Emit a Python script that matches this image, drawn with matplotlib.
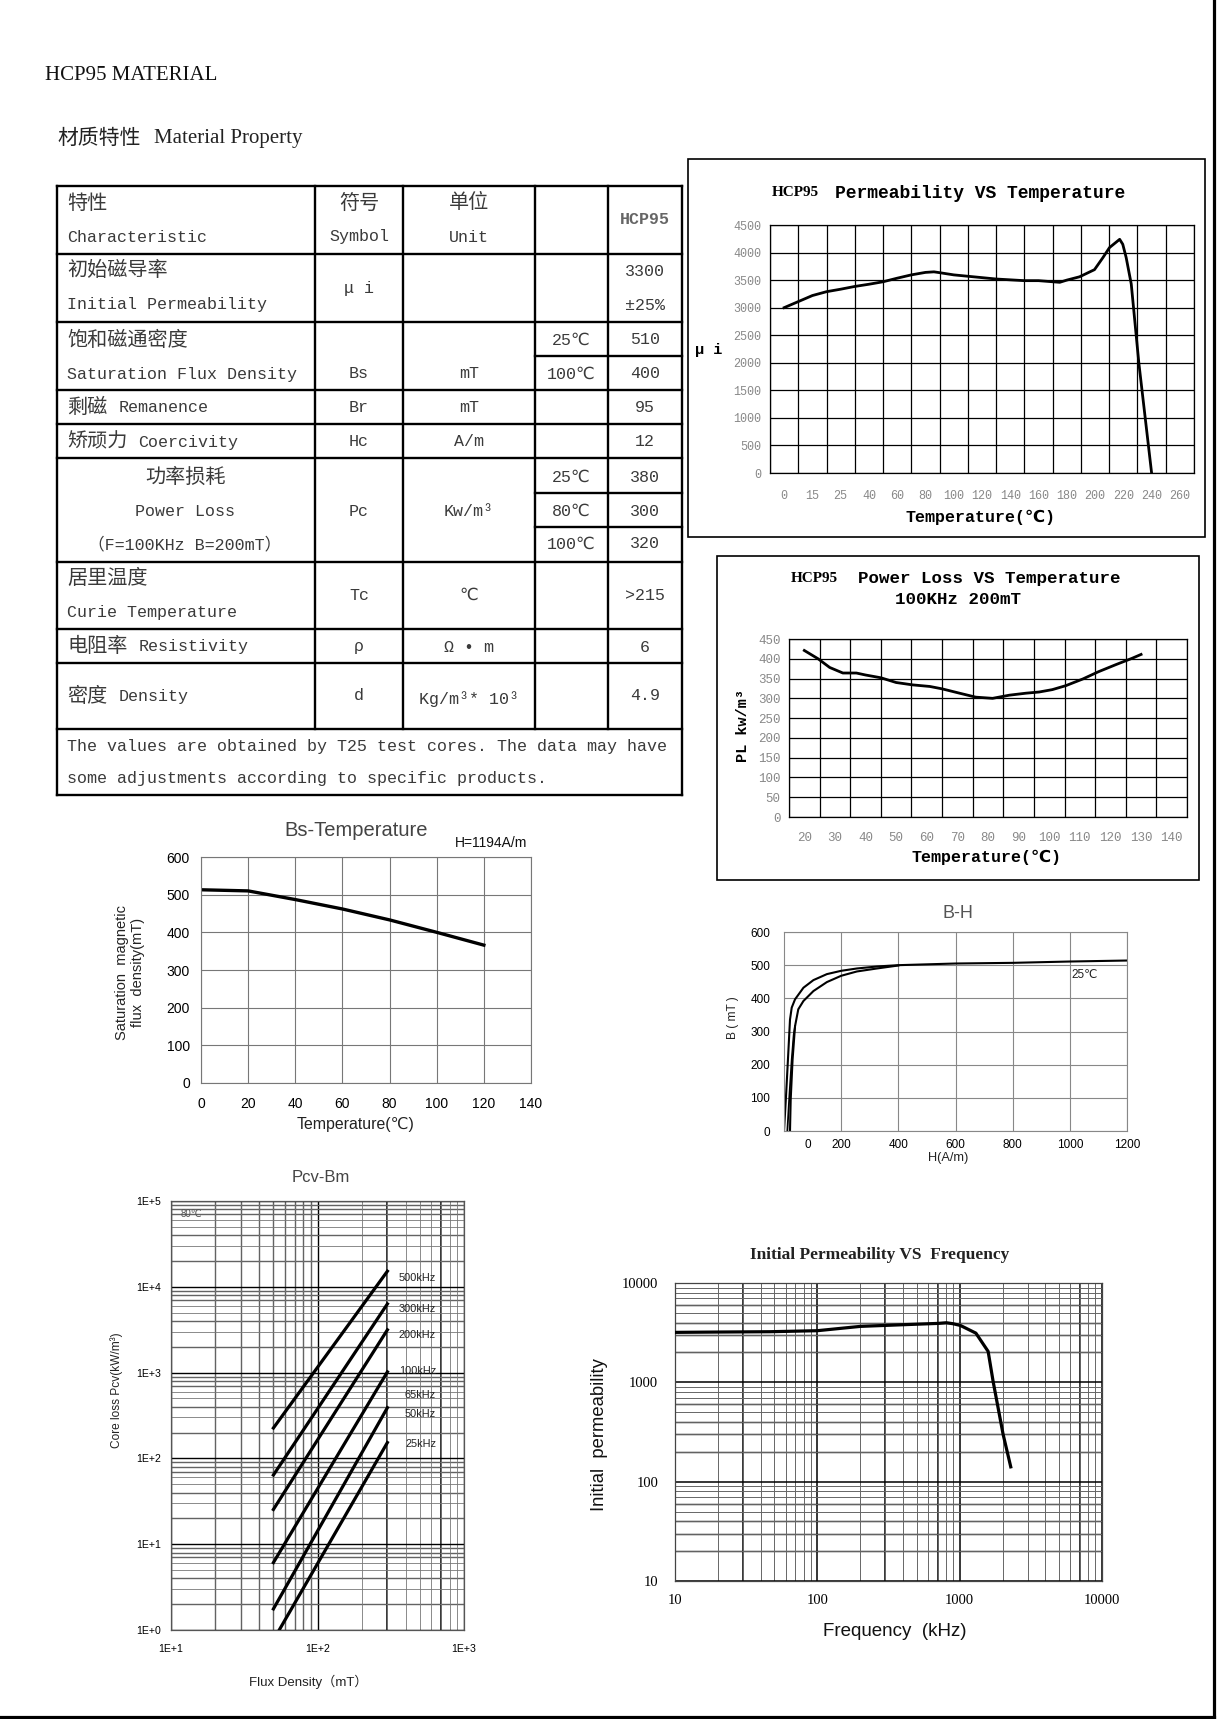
import matplotlib
matplotlib.use('Agg')
import matplotlib.pyplot as plt
import numpy as np
from matplotlib.ticker import NullFormatter, LogLocator
from matplotlib.patches import Rectangle

W, H = 1217, 1719
CJK = 'Noto Sans CJK SC'
MONO = ['Liberation Mono', 'DejaVu Sans Mono', 'DejaVu Sans', CJK]
SANS = ['Liberation Sans', 'DejaVu Sans', CJK]
SERIF = ['Liberation Serif', 'DejaVu Serif', CJK]
TXT = '#3a3a3a'

# ---- data ----
# permeability vs temperature (x = category position, categories below)
perm_temp_labels = ['0', '15', '25', '40', '60', '80', '100', '120', '140',
                    '160', '180', '200', '220', '240', '260']
perm_pos = [0, 0.5, 1.0, 1.5, 2.0, 2.5, 3.0, 3.5, 4.0, 4.5, 5.0, 5.3, 5.5, 6.0,
            6.5, 7.0, 7.5, 8.0, 8.5, 9.0, 9.5, 9.75, 10.0, 10.45, 10.98, 11.28,
            11.51, 11.87, 11.98, 12.1, 12.28, 12.55, 13.0]
perm_val = [3000, 3110, 3220, 3290, 3335, 3385, 3425, 3470, 3535, 3595, 3640,
            3650, 3635, 3595, 3570, 3545, 3520, 3505, 3490, 3490, 3470, 3460,
            3500, 3560, 3690, 3910, 4090, 4240, 4150, 3910, 3430, 1990, 0]

# power loss vs temperature, 100kHz 200mT
pl_temp = [20, 24.5, 28.3, 32.6, 37, 40, 45, 50, 55.4, 61, 65, 70.7, 76, 81.5,
           87, 92.4, 96.7, 101, 105.4, 111, 116, 121.7, 127, 130]
pl_val = [421, 400, 378, 364, 364, 359, 352, 340, 334, 330, 324, 313, 303, 300,
          308, 313, 316, 322, 332, 349, 367, 385, 401, 411]
pl_temp_labels = [20, 30, 40, 50, 60, 70, 80, 90, 100, 110, 120, 130, 140]

# Bs vs temperature
bs_temp = [0, 20, 40, 60, 80, 100, 120]
bs_val = [513, 510, 487, 462, 433, 400, 366]

# B-H curve (25C)
bh_h_up = [0, 7, 15, 21, 27, 38.6, 68, 103, 150, 200, 255, 325, 400, 600, 800, 1000, 1200]
bh_b_up = [0, 104, 235, 336, 372, 397, 432, 455, 473, 483, 490, 496, 500, 505, 507, 511, 514]
bh_h_low = [21, 23.4, 30, 38.6, 50, 68, 103, 150, 200, 255, 325, 400]
bh_b_low = [0, 94, 215, 316, 367, 392, 422, 449, 468, 481, 490, 499]
bh_h_ini = [11.7, 18.7, 27, 34, 38.6]
bh_b_ini = [0, 104, 215, 290, 316]

# Pcv - Bm at 80C: (B start, B end) and (Pcv start, Pcv end)
pcv_b = [[50, 300], [50, 300], [50, 300], [50, 300], [50, 300], [54.8, 300]]
pcv_p = [[226, 15200], [64, 6320], [25.4, 3150], [6.1, 1020], [1.76, 390], [1.0, 153]]
pcv_freq_labels = ['500kHz', '300kHz', '200kHz', '100kHz', '65kHz', '50kHz', '25kHz']
pcv_label_p = [12800, 5570, 2770, 1050, 555, 326, 147]

# initial permeability vs frequency
ip_freq = [10, 20, 46.5, 100, 201, 400, 708, 806, 898, 1010, 1300, 1585, 1718, 2018, 2285]
ip_val = [3184, 3208, 3233, 3310, 3659, 3802, 3921, 3980, 3890, 3742, 3128, 2047, 1021, 301, 141]

fig = plt.figure(figsize=(W / 100, H / 100), dpi=100)
fig.patch.set_facecolor('white')

pg = fig.add_axes([0, 0, 1, 1])
pg.set_xlim(0, W)
pg.set_ylim(H, 0)
pg.axis('off')


def ax_px(l, t, r, b):
    return fig.add_axes([l / W, 1 - b / H, (r - l) / W, (b - t) / H])


def tx(x, y, s, size=12, ha='left', family=MONO, color=TXT, **kw):
    pg.text(x, y, s, fontsize=size, ha=ha, va='center', family=family, color=color, **kw)


# ---- headings ----
tx(45, 75, 'HCP95 MATERIAL', size=15, family=SERIF, color='#111')
tx(57, 138, '材质特性', size=15, family=[CJK], color='#222')
tx(154, 138, 'Material Property', size=15, family=SERIF, color='#222')

# ---- table ----
col_x = [57, 315, 403, 535, 608, 682]
row_y = [186, 254, 322, 390, 424, 458, 562, 629, 663, 729, 795]
sub_y = [356, 493, 527]
tlw = 1.7
for y in row_y:
    pg.plot([col_x[0], col_x[-1]], [y, y], color='black', lw=tlw, solid_capstyle='projecting')
for y in sub_y:
    pg.plot([col_x[3], col_x[-1]], [y, y], color='black', lw=tlw)
for x in col_x[1:-1]:
    pg.plot([x, x], [row_y[0], row_y[-2]], color='black', lw=tlw)
for x in (col_x[0], col_x[-1]):
    pg.plot([x, x], [row_y[0], row_y[-1]], color='black', lw=tlw, solid_capstyle='projecting')

c1 = 67
c2 = (col_x[1] + col_x[2]) / 2
c3 = (col_x[2] + col_x[3]) / 2
c4 = (col_x[3] + col_x[4]) / 2
c5 = (col_x[4] + col_x[5]) / 2


def cjk_latin(y, cjk, latin):
    tx(c1, y, cjk, size=14.5, family=[CJK])
    tx(c1 + 20.2 * len(cjk) + 11, y, latin)


tx(c1, 203, '特性', size=14.5, family=[CJK])
tx(c1, 237, 'Characteristic')
tx(c2, 203, '符号', size=14.5, family=[CJK], ha='center')
tx(c2, 237, 'Symbol', ha='center')
tx(c3, 203, '单位', size=14.5, family=[CJK], ha='center')
tx(c3, 237, 'Unit', ha='center')
tx(c5, 220, 'HCP95', ha='center', color='#666', fontweight='bold')

tx(c1, 271, '初始磁导率', size=14.5, family=[CJK])
tx(c1, 305, 'Initial Permeability')
tx(c2, 288, 'μ i', ha='center')
tx(c5, 271, '3300', ha='center')
tx(c5, 305, '±25%', ha='center')

tx(c1, 340, '饱和磁通密度', size=14.5, family=[CJK])
tx(c1, 374, 'Saturation Flux Density')
tx(c2, 374, 'Bs', ha='center')
tx(c3, 374, 'mT', ha='center')
tx(c4, 340, '25℃', ha='center')
tx(c5, 340, '510', ha='center')
tx(c4, 374, '100℃', ha='center')
tx(c5, 374, '400', ha='center')

cjk_latin(407, '剩磁', 'Remanence')
tx(c2, 407, 'Br', ha='center')
tx(c3, 407, 'mT', ha='center')
tx(c5, 407, '95', ha='center')

cjk_latin(442, '矫顽力', 'Coercivity')
tx(c2, 442, 'Hc', ha='center')
tx(c3, 442, 'A/m', ha='center')
tx(c5, 442, '12', ha='center')

tx(186, 477, '功率损耗', size=14.5, family=[CJK], ha='center')
tx(185, 511, 'Power Loss', ha='center')
tx(185, 544, '（F=100KHz B=200mT）', ha='center')
tx(c2, 511, 'Pc', ha='center')
tx(c3, 511, 'Kw/m³', ha='center')
tx(c4, 477, '25℃', ha='center')
tx(c5, 477, '380', ha='center')
tx(c4, 511, '80℃', ha='center')
tx(c5, 511, '300', ha='center')
tx(c4, 544, '100℃', ha='center')
tx(c5, 544, '320', ha='center')

tx(c1, 578, '居里温度', size=14.5, family=[CJK])
tx(c1, 613, 'Curie Temperature')
tx(c2, 595, 'Tc', ha='center')
tx(c3, 595, '℃', ha='center')
tx(c5, 595, '>215', ha='center')

cjk_latin(647, '电阻率', 'Resistivity')
tx(c2, 647, 'ρ', ha='center')
tx(c3, 647, 'Ω • m', ha='center')
tx(c5, 647, '6', ha='center')

cjk_latin(696, '密度', 'Density')
tx(c2, 696, 'd', ha='center')
tx(c3, 699, 'Kg/m³* 10³', ha='center')
tx(c5, 696, '4.9', ha='center')

tx(c1, 747, 'The values are obtained by T25 test cores. The data may have')
tx(c1, 779, 'some adjustments according to specific products.')

# ---- chart 1: permeability vs temperature ----
pg.add_patch(Rectangle((687.5, 159), 517.5, 378, fill=False, lw=1.2, ec='black'))
ax1 = ax_px(770, 225, 1194, 473)
ax1.plot(perm_pos, perm_val, color='black', lw=2.0, solid_joinstyle='round')
n1 = len(perm_temp_labels)
ax1.set_xlim(-0.5, n1 - 0.5)
ax1.set_ylim(0, 4500)
ax1.set_xticks(range(n1))
ax1.set_xticklabels(perm_temp_labels, fontsize=8.5, family=MONO, color='#888')
ax1.set_xticks(np.arange(-0.5, n1, 1), minor=True)
ax1.set_yticks(range(0, 4501, 500))
ax1.set_yticklabels([str(v) for v in range(0, 4501, 500)], fontsize=8.5, family=MONO, color='#888')
ax1.grid(True, which='minor', axis='x', color='black', lw=0.9)
ax1.grid(True, which='major', axis='y', color='black', lw=0.9)
ax1.tick_params(which='both', length=0)
ax1.tick_params(axis='x', pad=12)
ax1.tick_params(axis='y', pad=6)
for s in ax1.spines.values():
    s.set_linewidth(0.9)
tx(772, 193, 'HCP95', size=11, family=SERIF, color='black', fontweight='bold')
tx(835, 193, 'Permeability VS Temperature', size=13, color='black', fontweight='bold')
tx(709, 350, 'μ i', size=11, ha='center', color='black', fontweight='bold')
tx(981, 517, 'Temperature(℃)', size=12, ha='center', color='black', fontweight='bold')

# ---- chart 2: power loss vs temperature ----
pg.add_patch(Rectangle((717, 556), 482, 324, fill=False, lw=1.2, ec='black'))
ax2 = ax_px(789, 639, 1187, 817)
ax2.plot(pl_temp, pl_val, color='black', lw=2.0, solid_joinstyle='round')
ax2.set_xlim(15, 145)
ax2.set_ylim(0, 450)
ax2.set_xticks(pl_temp_labels)
ax2.set_xticklabels([str(v) for v in pl_temp_labels], fontsize=9, family=MONO, color='#888')
ax2.set_xticks(np.arange(15, 146, 10), minor=True)
ax2.set_yticks(range(0, 451, 50))
ax2.set_yticklabels([str(v) for v in range(0, 451, 50)], fontsize=9, family=MONO, color='#888')
ax2.grid(True, which='minor', axis='x', color='black', lw=0.9)
ax2.grid(True, which='major', axis='y', color='black', lw=0.9)
ax2.tick_params(which='both', length=0)
ax2.tick_params(axis='x', pad=11)
ax2.tick_params(axis='y', pad=6)
for s in ax2.spines.values():
    s.set_linewidth(0.9)
tx(791, 579, 'HCP95', size=11, family=SERIF, color='black', fontweight='bold')
tx(858, 579, 'Power Loss VS Temperature', size=12.6, color='black', fontweight='bold')
tx(958, 600, '100KHz 200mT', size=12.6, ha='center', color='black', fontweight='bold')
tx(743, 725, 'PL kw/m³', size=11, ha='center', color='black', fontweight='bold', rotation=90)
tx(987, 857, 'Temperature(℃)', size=12, ha='center', color='black', fontweight='bold')

# ---- chart 3: Bs vs temperature ----
ax3 = ax_px(201, 857, 531, 1083)
ax3.plot(bs_temp, bs_val, color='black', lw=2.4)
ax3.set_xlim(0, 140)
ax3.set_ylim(0, 600)
ax3.set_xticks(range(0, 141, 20))
ax3.set_yticks(range(0, 601, 100))
for lab in ax3.get_xticklabels() + ax3.get_yticklabels():
    lab.set_family(SANS)
    lab.set_fontsize(10)
ax3.grid(True, color='#777', lw=0.8)
ax3.tick_params(length=0)
ax3.tick_params(axis='x', pad=10)
ax3.tick_params(axis='y', pad=8)
for s in ax3.spines.values():
    s.set_color('#777')
    s.set_linewidth(0.8)
tx(356, 831, 'Bs-Temperature', size=14.5, ha='center', family=SANS, color='#444')
tx(491, 843, 'H=1194A/m', size=10, ha='center', family=SANS, color='#111')
tx(356, 1125, 'Temperature(℃)', size=11.4, ha='center', family=SANS, color='#222')
tx(130, 972, 'Saturation  magnetic\nflux  density(mT)', size=10.5, ha='center', family=SANS,
   color='#222', rotation=90, multialignment='center')

# ---- chart 4: B-H ----
ax4 = ax_px(784, 932, 1127, 1131)
ax4.plot(bh_h_up, bh_b_up, color='black', lw=1.5)
ax4.plot(bh_h_low, bh_b_low, color='black', lw=1.5)
ax4.plot(bh_h_ini, bh_b_ini, color='black', lw=1.3)
ax4.set_xlim(0, 1200)
ax4.set_ylim(0, 600)
ax4.set_xticks(range(200, 1201, 200))
ax4.set_xticks([84], minor=True)
ax4.set_xticklabels(['0'], minor=True)
ax4.set_yticks(range(0, 601, 100))
for lab in ax4.get_xticklabels() + ax4.get_yticklabels() + ax4.get_xticklabels(minor=True):
    lab.set_family(SANS)
    lab.set_fontsize(8.5)
ax4.grid(True, which='major', color='#888', lw=0.8)
ax4.tick_params(which='both', length=0)
ax4.tick_params(axis='x', which='both', pad=6)
ax4.tick_params(axis='y', pad=10)
for s in ax4.spines.values():
    s.set_color('#888')
    s.set_linewidth(0.8)
ax4.text(1052, 471, '25℃', fontsize=8.5, family=SANS, ha='center', va='center', color='#222')
tx(958, 913, 'B-H', size=13, ha='center', family=SANS, color='#555')
tx(948, 1158, 'H(A/m)', size=9.2, ha='center', family=SANS, color='#222')
tx(733, 1018, 'B ( mT )', size=8.6, ha='center', family=SANS, color='#222', rotation=90)

# ---- chart 5: Pcv-Bm ----
ax5 = ax_px(171, 1201, 464, 1630)
ax5.set_xscale('log')
ax5.set_yscale('log')
ax5.set_xlim(10, 1000)
ax5.set_ylim(1, 1e5)
ax5.xaxis.set_minor_locator(LogLocator(base=10, subs=np.arange(2, 10)))
ax5.yaxis.set_minor_locator(LogLocator(base=10, subs=np.arange(2, 10), numticks=20))
ax5.xaxis.set_minor_formatter(NullFormatter())
ax5.yaxis.set_minor_formatter(NullFormatter())
ax5.set_xticks([10, 100, 1000])
ax5.set_xticklabels(['1E+1', '1E+2', '1E+3'])
ax5.set_yticks([1, 10, 100, 1e3, 1e4, 1e5])
ax5.set_yticklabels(['1E+0', '1E+1', '1E+2', '1E+3', '1E+4', '1E+5'])
for lab in ax5.get_xticklabels() + ax5.get_yticklabels():
    lab.set_family(SANS)
    lab.set_fontsize(7.6)
ax5.grid(True, which='major', color='black', lw=1.0)
ax5.grid(True, which='minor', color='#777', lw=0.6)
for d in range(0, 5):
    for m in (2, 4, 7, 8, 9):
        ax5.axhline(m * 10 ** d, color='black', lw=0.9, zorder=1.5)
for m in range(2, 10):
    ax5.axvline(m * 10, color='black', lw=0.9, zorder=1.5)
for m in (3, 7):
    ax5.axvline(m * 100, color='black', lw=1.1, zorder=1.5)
ax5.tick_params(which='both', length=0)
ax5.tick_params(axis='x', pad=10)
ax5.tick_params(axis='y', pad=7)
for s in ax5.spines.values():
    s.set_color('#555')
    s.set_linewidth(0.9)
for bb, pp in zip(pcv_b, pcv_p):
    ax5.plot(bb, pp, color='black', lw=2.3, zorder=3)
for lab, pv in zip(pcv_freq_labels, pcv_label_p):
    ax5.text(645, pv, lab, fontsize=7.9, family=SANS, ha='right', va='center', color='#222',
             zorder=4)
ax5.text(11.6, 71300, '80℃', fontsize=7, family=SANS, ha='left', va='center', color='#555')
tx(321, 1177, 'Pcv-Bm', size=12, ha='center', family=SANS, color='#444')
tx(308, 1682, 'Flux Density（mT）', size=9.5, ha='center', family=SANS, color='#222')
tx(117, 1390, 'Core loss Pcv(kW/m³)', size=8.6, ha='center', family=SANS, color='#222', rotation=90)

# ---- chart 6: initial permeability vs frequency ----
ax6 = ax_px(675, 1283, 1102, 1581)
ax6.set_xscale('log')
ax6.set_yscale('log')
ax6.set_xlim(10, 10000)
ax6.set_ylim(10, 10000)
ax6.xaxis.set_minor_locator(LogLocator(base=10, subs=np.arange(2, 10)))
ax6.yaxis.set_minor_locator(LogLocator(base=10, subs=np.arange(2, 10)))
ax6.xaxis.set_minor_formatter(NullFormatter())
ax6.yaxis.set_minor_formatter(NullFormatter())
ip_ticks = [10, 100, 1000, 10000]
ax6.set_xticks(ip_ticks)
ax6.set_xticklabels([str(v) for v in ip_ticks])
ax6.set_yticks(ip_ticks)
ax6.set_yticklabels([str(v) for v in ip_ticks])
for lab in ax6.get_xticklabels() + ax6.get_yticklabels():
    lab.set_family(SERIF)
    lab.set_fontsize(10.5)
ax6.grid(True, which='major', color='black', lw=1.1)
ax6.grid(True, which='minor', color='#666', lw=0.7)
for d in range(1, 4):
    for m in (2, 3, 4, 6):
        ax6.axhline(m * 10 ** d, color='black', lw=1.0, zorder=1.5)
for v in (30, 300, 700, 7000):
    ax6.axvline(v, color='black', lw=1.1, zorder=1.5)
ax6.tick_params(which='both', length=0)
ax6.tick_params(axis='x', pad=9)
ax6.tick_params(axis='y', pad=12)
for s in ax6.spines.values():
    s.set_color('#444')
    s.set_linewidth(0.9)
ax6.plot(ip_freq, ip_val, color='black', lw=2.3, zorder=3)
tx(880, 1255, 'Initial Permeability VS  Frequency', size=12.5, ha='center', family=SERIF,
   color='#222', fontweight='bold')
tx(895, 1632, 'Frequency  (kHz)', size=13.5, ha='center', family=SANS, color='#111')
tx(600, 1435, 'Initial  permeability', size=13.3, ha='center', family=SANS, color='#111', rotation=90)

# ---- page border ----
pg.plot([1214, 1214], [0, 1717], color='black', lw=2.3)
pg.plot([0, 1214], [1717, 1717], color='black', lw=2.3)

fig.savefig('out.png', dpi=100, facecolor='white')
